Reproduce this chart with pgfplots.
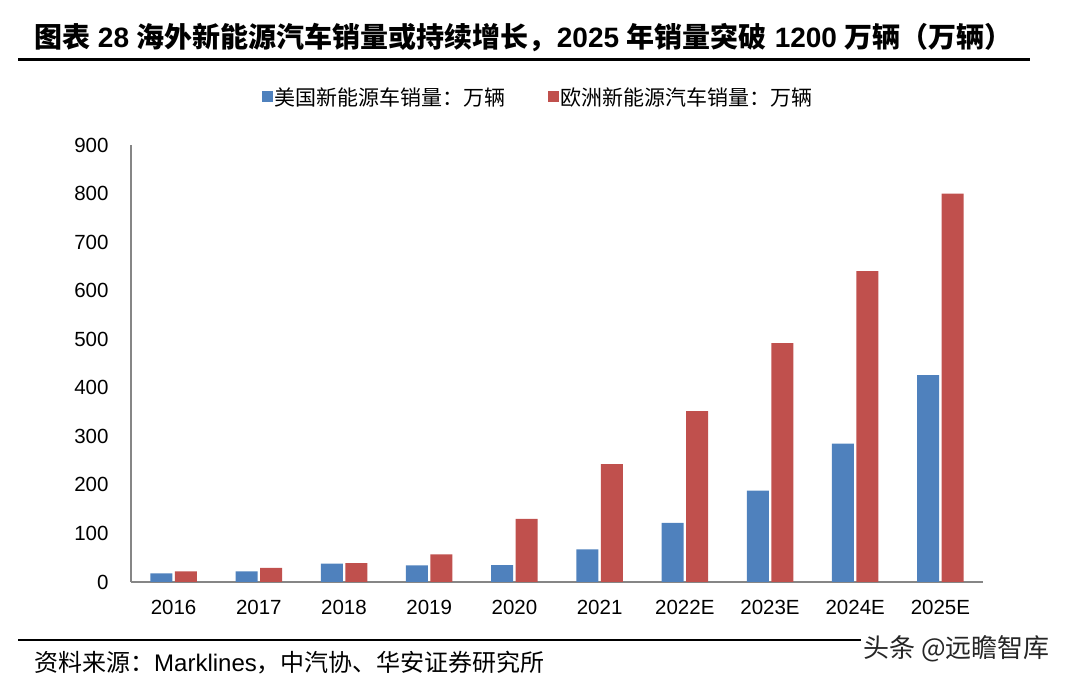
\documentclass[border=0pt]{standalone}
\usepackage{fontspec}
\setmainfont{Liberation Sans}
\newfontfamily\cjk{Noto Sans CJK SC}
\usepackage{pgfplots}
\usepackage{pgfplotstable}
\pgfplotsset{compat=1.18}
\definecolor{usblue}{HTML}{4F81BD}
\definecolor{eured}{HTML}{C0504D}
\definecolor{axgrey}{HTML}{868686}

% sales, 10k vehicles: US NEV, Europe NEV
\pgfplotstableread{
x us eu
0 18 22
1 22 29
2 38 39
3 34 57
4 35 130
5 67 243
6 122 352
7 188 492
8 285 640
9 426 800
}\sales

\begin{document}
\begin{tikzpicture}[x=1pt,y=1pt]
\path (0,0) rectangle (1070,682);
% title and rules
\node[anchor=west, inner sep=0pt, font=\bfseries\fontsize{28}{31}\selectfont] at (34,644)
  {{\cjk 图表} 28 {\cjk 海外新能源汽车销量或持续增长，}2025 {\cjk 年销量突破} 1200 {\cjk 万辆（万辆）}};
\draw[line width=3pt] (18,622) -- (1030,622);
\draw[line width=2pt] (18,42) -- (1030,42);
\node[anchor=west, inner sep=0pt, font=\fontsize{24}{27}\selectfont] at (34,19)
  {{\cjk 资料来源：}Marklines{\cjk ，中汽协、华安证券研究所}};
\node[anchor=east, inner sep=2pt, fill=white, font=\cjk\fontsize{26}{28}\selectfont, text=black!85] at (1052,33)
  {头条 @远瞻智库};
\begin{axis}[
  at={(131pt,100pt)}, anchor=south west,
  scale only axis, width=852pt, height=437pt,
  ybar=2.5pt, bar width=22pt,
  xmin=-0.5, xmax=9.5, ymin=0, ymax=900,
  ytick={0,100,...,900},
  xtick=data,
  xticklabels={2016,2017,2018,2019,2020,2021,2022E,2023E,2024E,2025E},
  axis x line*=bottom, axis y line*=left,
  axis line style={axgrey, line width=1.3pt, -},
  major tick length=0pt,
  /pgf/number format/assume math mode=true,
  tick label style={font=\fontsize{20.5}{24}\selectfont},
  yticklabel style={xshift=-19pt},
  xticklabel style={yshift=-15pt},
  legend style={draw=none, fill=none, at={(0.478,1.11)}, anchor=center,
    font=\cjk\fontsize{21}{24}\selectfont,
    /tikz/every even column/.append style={column sep=40pt}},
  legend columns=2,
  legend image code/.code={\fill[#1] (0pt,-5pt) rectangle (11pt,6pt);},
]
\addplot[fill=usblue, draw=none] table[x=x, y=us] {\sales};
\addplot[fill=eured, draw=none] table[x=x, y=eu] {\sales};
\legend{美国新能源车销量：万辆, 欧洲新能源汽车销量：万辆}
\end{axis}
\end{tikzpicture}
\end{document}
